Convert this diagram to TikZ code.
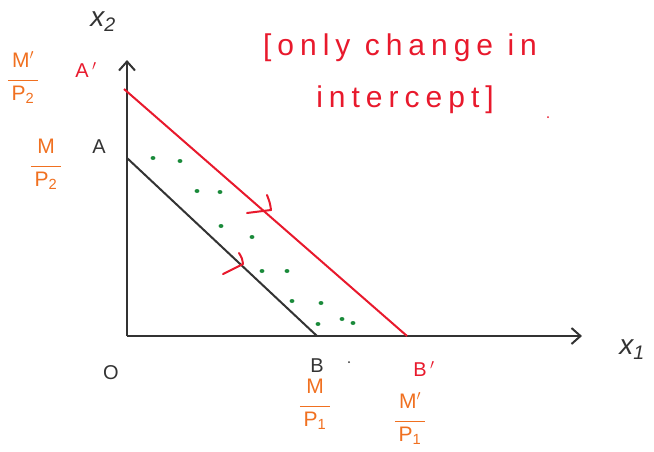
\documentclass[tikz,border=0pt]{standalone}
\usepackage{fontspec}
\setmainfont{Liberation Sans}
\usetikzlibrary{arrows.meta}
\definecolor{hred}{HTML}{E8192C}
\definecolor{horange}{HTML}{F07020}
\definecolor{hgreen}{HTML}{1A8A3A}
\definecolor{hink}{HTML}{333333}
\newcommand{\hfr}[2]{\begin{tabular}{@{}c@{}}#1\\[-9pt]\rule{1.45em}{1.6pt}\\[-4pt]#2\end{tabular}}
\begin{document}
\begin{tikzpicture}[x=1pt,y=-1pt,
  axis/.style={draw=hink,line width=2.6pt,-{Straight Barb[length=9pt,width=16pt,line width=2pt]}},
  budget/.style={line width=2pt},
  lbl/.style={font=\fontsize{20}{22}\selectfont,inner sep=1pt},
  axl/.style={font=\fontsize{28}{30}\selectfont\itshape,inner sep=1pt,text=hink},
  frc/.style={text=horange,font=\fontsize{21}{23}\selectfont,inner sep=0pt},
  gdot/.style={fill=hgreen,draw=none},
  chev/.style={draw=hred,line width=2pt,line cap=round,line join=round},
  note/.style={text=hred,font=\fontsize{30}{32}\selectfont\addfontfeature{LetterSpace=20},inner sep=0pt}]
\useasboundingbox (0,0) rectangle (654,451);
% axes
\coordinate (O) at (127,336);
\coordinate (Ytop) at (127,60);
\coordinate (Xend) at (582,336);
\draw[axis] (O) -- (Ytop);
\draw[axis] (O) -- (Xend);
% budget lines
\coordinate (A) at (127,158);
\coordinate (B) at (317,336);
\coordinate (Ap) at (124,89);
\coordinate (Bp) at (407,336);
\draw[budget,hink] (A) -- (B);
\draw[budget,hred] (Ap) -- (Bp);
% red chevrons (shift direction)
\draw[chev] (247,213) -- (271,210) .. controls (270,203) .. (267,195);
\draw[chev] (223,274) -- (243,264) .. controls (242,258) .. (239,253);
% green dots
\foreach \p in {(153,158),(180,161),(197,191),(220,192),(221,226),(252,237),(262,271),(287,271),(292,301),(321,303),(318,324),(342,319),(353,323)}
  \fill[gdot] \p ellipse (2.4pt and 2pt);
% specks
\fill[hink] (349,362) circle (1pt);
\fill[hred] (548,117) circle (1pt);
% axis labels
\node[axl] (x2) at (103,22) {x\textsubscript{2}};
\node[axl] (x1) at (632,350) {x\textsubscript{1}};
\node[lbl,text=hink] (oLab) at (111,373) {O};
% intercept labels
\node[lbl,text=hred] (ApLab) at (86,70) {A\,$'$};
\node[lbl,text=hink] (ALab) at (99,147) {A};
\node[lbl,text=hink] (BLab) at (317,366) {B};
\node[lbl,text=hred] (BpLab) at (424,369) {B\,$'$};
% fractions
\node[frc] (f1) at (23,79) {\hfr{M$'$}{P\textsubscript{2}}};
\node[frc] (f2) at (46,165) {\hfr{M}{P\textsubscript{2}}};
\node[frc] (f3) at (315,405) {\hfr{M}{P\textsubscript{1}}};
\node[frc] (f4) at (410,420) {\hfr{M$'$}{P\textsubscript{1}}};
% note
\node[note] (note1) at (400,48) {[only change in};
\node[note] (note2) at (405,100) {intercept]};
\end{tikzpicture}
\end{document}
